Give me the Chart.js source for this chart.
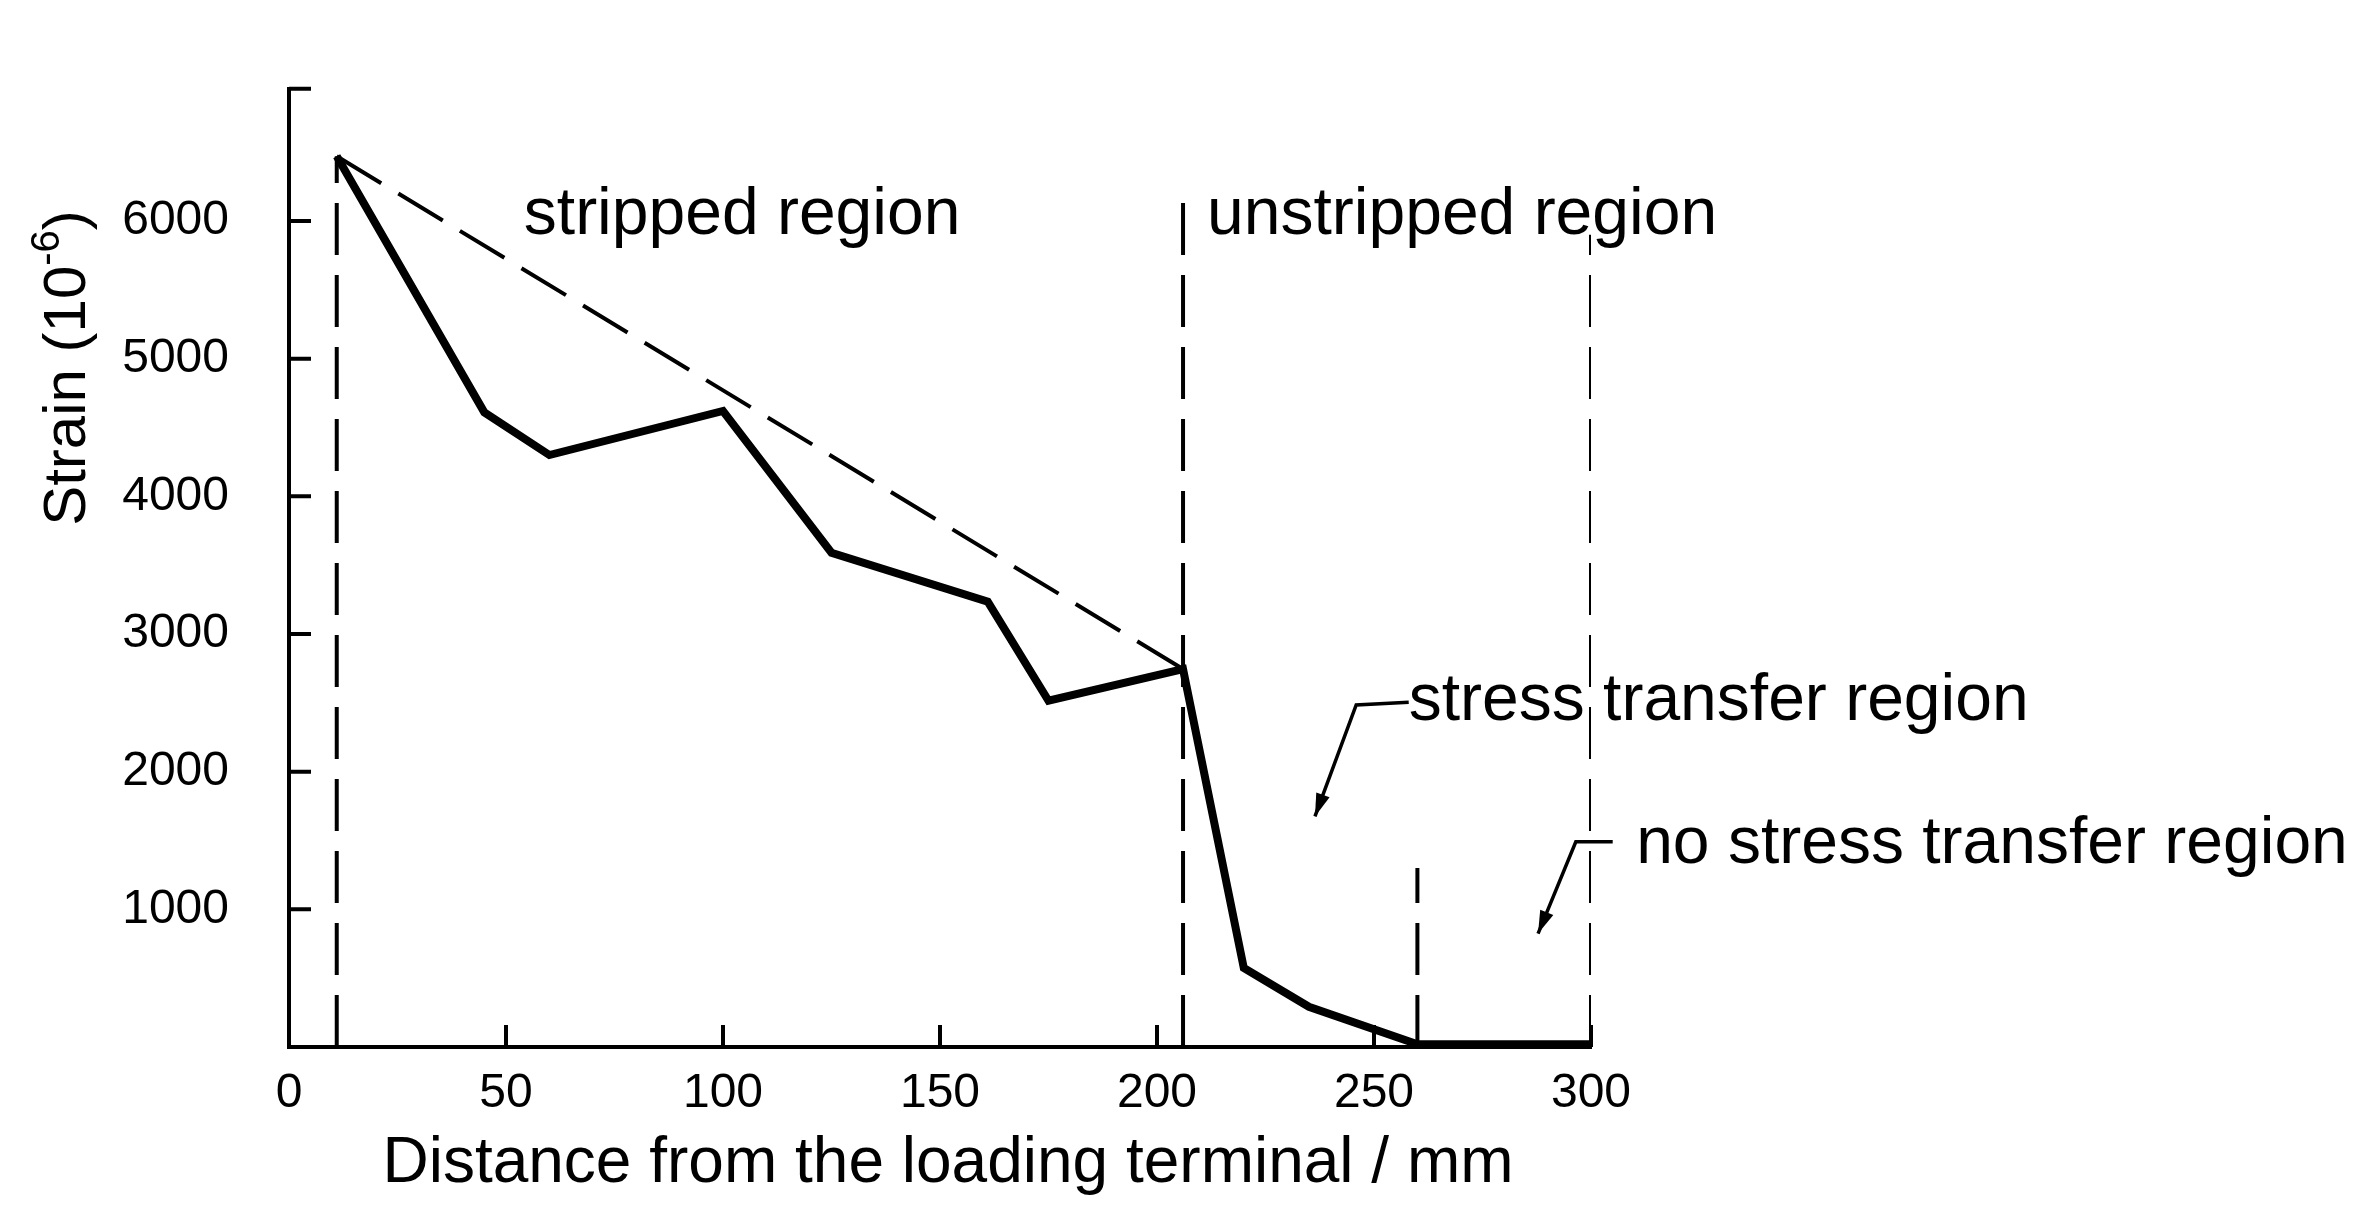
<!DOCTYPE html>
<html><head><meta charset="utf-8">
<script src="https://cdn.jsdelivr.net/npm/chart.js@4"></script>
<style>html,body{margin:0;background:#fff}#w{width:2375px;height:1215px}</style>
</head><body><div id="w"><canvas id="c"></canvas></div>
<script>
const distance = [11, 45, 60, 100, 125, 161, 175, 206, 220, 235, 260, 300];
const strain   = [6470, 4610, 4300, 4620, 3590, 3235, 2515, 2745, 574, 292, 20, 20];
const trendX = [11, 206];
const trendY = [6470, 2745];
const boundaryX   = [11, 206, 260, 300];
const boundaryTop = [6470, 6170, 1300, 5900];
const xTicks = [0, 50, 100, 150, 200, 250, 300];
const yTicks = [0, 1000, 2000, 3000, 4000, 5000, 6000, 6960];
const labels = [
  {text:'stripped region', x:104.4, y:6040, align:'center'},
  {text:'unstripped region', x:270.3, y:6040, align:'center'},
  {text:'stress transfer region', x:258, y:2505, align:'left'},
  {text:'no stress transfer region', x:310.4, y:1469, align:'left'}
];
const leaders = [
  [[258,2505],[245.9,2485],[236.4,1675]],
  [[305,1490],[296.5,1490],[287.8,824]]
];
const xTitle = 'Distance from the loading terminal / mm';
const FONT = '"Liberation Sans", Arial, sans-serif';
const ds = [{data: distance.map((x,i)=>({x, y: strain[i]})), borderColor:'#000', borderWidth:8, pointRadius:0, showLine:true, fill:false},
  {data: trendX.map((x,i)=>({x, y: trendY[i]})), borderColor:'#000', borderWidth:4, borderDash:[52,20], pointRadius:0, showLine:true}];
boundaryX.forEach((x,i)=>ds.push({data:[{x,y:0},{x,y:boundaryTop[i]}], borderColor:'#000', borderWidth:4, borderDash:[52,20], pointRadius:0, showLine:true}));
const anno = {id:'anno', afterDraw(ch){
  const c=ch.ctx, xs=ch.scales.x, ys=ch.scales.y, a=ch.chartArea;
  c.save(); c.fillStyle='#000'; c.strokeStyle='#000';
  // inward ticks
  c.lineWidth=4; c.beginPath();
  xTicks.forEach(v=>{const p=xs.getPixelForValue(v); c.moveTo(p,a.bottom); c.lineTo(p,a.bottom-22);});
  yTicks.forEach(v=>{const p=ys.getPixelForValue(v); c.moveTo(a.left,p); c.lineTo(a.left+22,p);});
  c.stroke();
  c.font='66px '+FONT; c.textBaseline='middle';
  labels.forEach(l=>{c.textAlign=l.align; c.fillText(l.text, xs.getPixelForValue(l.x), ys.getPixelForValue(l.y));});
  c.lineWidth=3.5;
  leaders.forEach(p=>{
    const pts=p.map(q=>[xs.getPixelForValue(q[0]), ys.getPixelForValue(q[1])]);
    c.beginPath(); c.moveTo(...pts[0]); pts.slice(1).forEach(q=>c.lineTo(...q)); c.stroke();
    const s=pts[pts.length-2], b=pts[pts.length-1];
    const ang=Math.atan2(b[1]-s[1], b[0]-s[0]);
    c.beginPath(); c.moveTo(b[0],b[1]);
    c.lineTo(b[0]-24*Math.cos(ang-0.3), b[1]-24*Math.sin(ang-0.3));
    c.lineTo(b[0]-24*Math.cos(ang+0.3), b[1]-24*Math.sin(ang+0.3));
    c.closePath(); c.fill();
  });
  // x title
  c.font='64px '+FONT; c.textAlign='center'; c.textBaseline='alphabetic';
  c.fillText(xTitle, 948, 1182);
  // y title with superscript
  c.translate(85, 368); c.rotate(-Math.PI/2);
  const p1='Strain (10', sup='-6', p2=')';
  c.font='60px '+FONT; const w1=c.measureText(p1).width, w3=c.measureText(p2).width;
  c.font='40px '+FONT; const w2=c.measureText(sup).width;
  let x0=-(w1+w2+w3)/2;
  c.textAlign='left';
  c.font='60px '+FONT; c.fillText(p1, x0, 0);
  c.font='40px '+FONT; c.fillText(sup, x0+w1, -26);
  c.font='60px '+FONT; c.fillText(p2, x0+w1+w2, 0);
  c.restore();
}};
new Chart(document.getElementById('c'), {
  type:'scatter', data:{datasets:ds}, plugins:[anno],
  options:{responsive:true, maintainAspectRatio:false, animation:false,
    layout:{padding:{left:0, right:784, top:33, bottom:0}},
    plugins:{legend:{display:false}, tooltip:{enabled:false}},
    scales:{
      x:{type:'linear', min:0, max:300,
        afterBuildTicks:s=>{s.ticks=xTicks.map(v=>({value:v}));},
        afterFit:s=>{s.height=168;},
        grid:{display:false, drawTicks:false}, border:{color:'#000', width:4},
        ticks:{color:'#000', font:{size:48, family:FONT}, padding:18}},
      y:{type:'linear', min:0, max:6960,
        afterBuildTicks:s=>{s.ticks=yTicks.map(v=>({value:v}));},
        afterFit:s=>{s.width=289;},
        grid:{display:false, drawTicks:false}, border:{color:'#000', width:4},
        ticks:{color:'#000', font:{size:48, family:FONT}, padding:60, callback:v=>(v===0||v===6960)?'':String(v)}}
    }
  }
});
</script></body></html>
